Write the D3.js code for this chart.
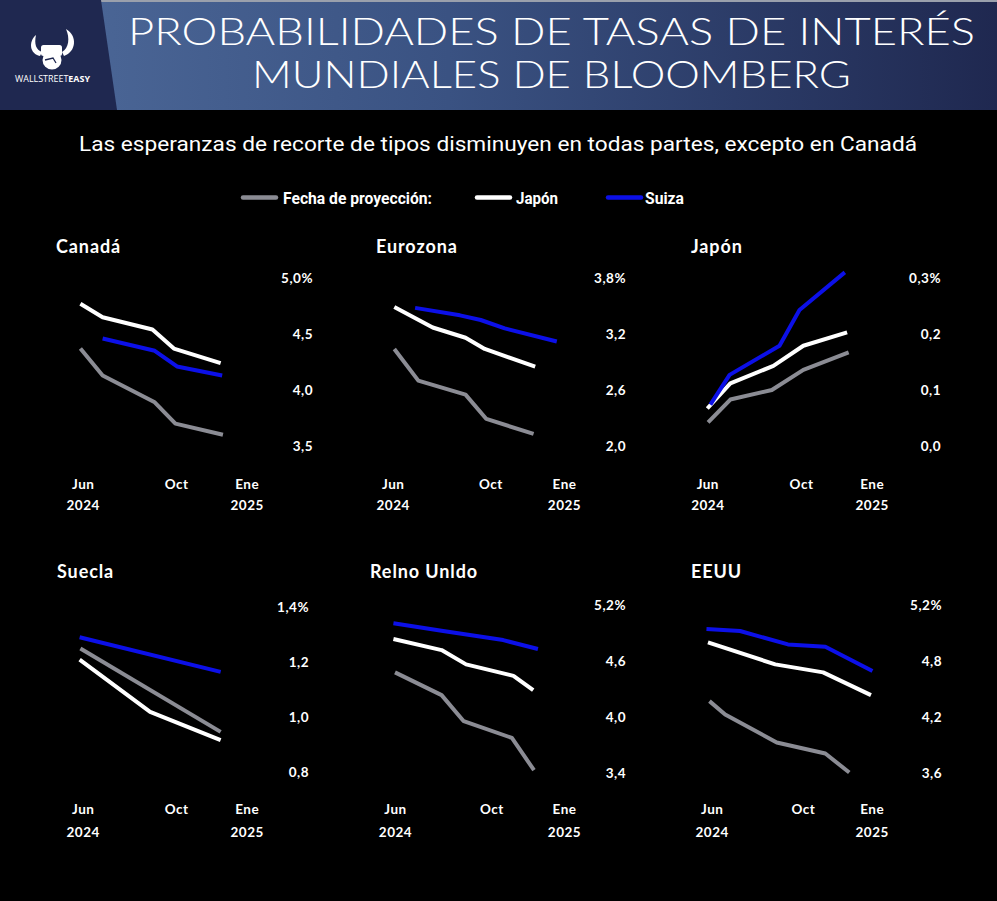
<!DOCTYPE html>
<html><head><meta charset="utf-8">
<script src="https://cdn.jsdelivr.net/npm/d3@7"></script>
<style>
html,body{margin:0;padding:0;background:#000;}
svg{display:block;}
</style></head>
<body>
<svg id="chart" width="997" height="901"></svg>
<script>
// ---------- DATA ----------
const titleLines = ["PROBABILIDADES DE TASAS DE INTERÉS", "MUNDIALES DE BLOOMBERG"];
const subtitle = "Las esperanzas de recorte de tipos disminuyen en todas partes, excepto en Canadá";
const legendLabels = ["Fecha de proyección:", "Japón", "Suiza"];
const seriesKeys = ["gray", "white", "blue"];
const monthTicks = ["2024-06-01", "2024-10-01", "2025-01-01"];
const monthLabels = ["Jun", "Oct", "Ene"];
const yearTicks = ["2024-06-01", "2025-01-01"];
const yearLabels = ["2024", "2025"];

const panelNames = ["Canadá", "Eurozona", "Japón", "Suecla", "Relno Unldo", "EEUU"];
const panelTicks = [
  [3.5, 4.0, 4.5, 5.0],
  [2.0, 2.6, 3.2, 3.8],
  [0.0, 0.1, 0.2, 0.3],
  [0.8, 1.0, 1.2, 1.4],
  [3.4, 4.0, 4.6, 5.2],
  [3.6, 4.2, 4.8, 5.4]
];
// tick label text exactly as printed on the source (EEUU top label reads 5,2%)
const panelTickLabels = [
  ["3,5", "4,0", "4,5", "5,0%"],
  ["2,0", "2,6", "3,2", "3,8%"],
  ["0,0", "0,1", "0,2", "0,3%"],
  ["0,8", "1,0", "1,2", "1,4%"],
  ["3,4", "4,0", "4,6", "5,2%"],
  ["3,6", "4,2", "4,8", "5,2%"]
];

const canada = {
  gray:  [["2024-05-29",4.37],["2024-06-27",4.13],["2024-09-03",3.89],["2024-09-30",3.70],["2024-12-01",3.60]],
  white: [["2024-05-29",4.77],["2024-06-27",4.65],["2024-08-31",4.54],["2024-09-28",4.37],["2024-11-28",4.24]],
  blue:  [["2024-06-27",4.46],["2024-09-03",4.35],["2024-10-02",4.21],["2024-11-30",4.13]]
};
const eurozona = {
  gray:  [["2024-06-03",3.04],["2024-07-03",2.70],["2024-08-31",2.55],["2024-09-26",2.29],["2024-11-24",2.13]],
  white: [["2024-06-03",3.49],["2024-07-21",3.27],["2024-08-31",3.16],["2024-09-24",3.04],["2024-11-26",2.85]],
  blue:  [["2024-06-29",3.48],["2024-08-24",3.40],["2024-09-19",3.35],["2024-10-19",3.26],["2024-12-23",3.12]]
};
const japon = {
  gray:  [["2024-06-02",0.042],["2024-07-01",0.083],["2024-08-24",0.100],["2024-10-04",0.136],["2024-12-02",0.167]],
  white: [["2024-06-01",0.067],["2024-07-01",0.112],["2024-08-26",0.143],["2024-10-04",0.179],["2024-11-30",0.203]],
  blue:  [["2024-06-05",0.074],["2024-06-30",0.127],["2024-09-03",0.179],["2024-09-29",0.243],["2024-11-27",0.310]]
};
const suecia = {
  gray:  [["2024-05-29",1.249],["2024-11-28",0.946]],
  white: [["2024-05-28",1.209],["2024-08-28",1.019],["2024-11-28",0.916]],
  blue:  [["2024-05-28",1.290],["2024-11-28",1.164]]
};
const reinoUnido = {
  gray:  [["2024-06-01",4.478],["2024-07-30",4.234],["2024-08-27",3.955],["2024-10-27",3.776],["2024-11-24",3.430]],
  white: [["2024-05-30",4.835],["2024-07-30",4.717],["2024-08-30",4.564],["2024-10-29",4.441],["2024-11-23",4.288]],
  blue:  [["2024-05-30",5.004],["2024-08-01",4.921],["2024-10-16",4.824],["2024-11-29",4.728]]
};
const eeuu = {
  gray:  [["2024-05-29",4.370],["2024-06-19",4.227],["2024-08-27",3.927],["2024-10-31",3.809],["2024-12-02",3.605]],
  white: [["2024-05-27",5.000],["2024-08-25",4.764],["2024-10-28",4.678],["2024-12-31",4.434]],
  blue:  [["2024-05-25",5.142],["2024-07-09",5.121],["2024-09-11",4.978],["2024-10-31",4.953],["2025-01-02",4.692]]
};
const panelData = [canada, eurozona, japon, suecia, reinoUnido, eeuu];

// ---------- LAYOUT / STYLE ----------
const colors = {gray: "#8b8c94", white: "#ffffff", blue: "#0c10e8"};
const layout = [
  {titleX: 56,  titleY: 253, x0: 82.7,  x1: 246.7, yTop: 278, yBot: 446, labelRight: 313, mY: 484, yrY: 505},
  {titleX: 376, titleY: 253, x0: 392.7, x1: 564,   yTop: 278, yBot: 446, labelRight: 626, mY: 484, yrY: 505},
  {titleX: 691, titleY: 253, x0: 707.3, x1: 871.7, yTop: 278, yBot: 446, labelRight: 941, mY: 484, yrY: 505},
  {titleX: 57,  titleY: 578, x0: 82.7,  x1: 246.7, yTop: 607, yBot: 772, labelRight: 309, mY: 809, yrY: 832},
  {titleX: 370, titleY: 578, x0: 395,   x1: 564,   yTop: 605, yBot: 773, labelRight: 626, mY: 809, yrY: 832},
  {titleX: 691, titleY: 578, x0: 711.7, x1: 871.7, yTop: 605, yBot: 773, labelRight: 942, mY: 809, yrY: 832}
];

const parse = d3.timeParse("%Y-%m-%d");
const svg = d3.select("#chart");
const defs = svg.append("defs");

// ---------- HEADER ----------
const grad = defs.append("linearGradient").attr("id", "hdr").attr("x1", "0%").attr("x2", "100%");
grad.append("stop").attr("offset", "0%").attr("stop-color", "#4e6a9a");
grad.append("stop").attr("offset", "45%").attr("stop-color", "#3a5282");
grad.append("stop").attr("offset", "100%").attr("stop-color", "#1f2850");
svg.append("rect").attr("x", 0).attr("y", 0).attr("width", 997).attr("height", 110).attr("fill", "url(#hdr)");
svg.append("rect").attr("x", 0).attr("y", 0).attr("width", 997).attr("height", 2).attr("fill", "#9aa0ac");
svg.append("path").attr("d", "M0,0 L101,0 L117,110 L0,110 Z").attr("fill", "#1f2850");

// logo
const logo = svg.append("g").attr("fill", "#fff");
logo.append("path").attr("d", "M36,35 C28,42 30,54 40,56 L42,52 C36,50 34,44 36,35 Z");
logo.append("path").attr("d", "M66,29 C78,36 76,52 64,56 L62,52 C69,48 70,38 66,29 Z");
logo.append("circle").attr("cx", 52).attr("cy", 60).attr("r", 9.5);
logo.append("rect").attr("x", 41).attr("y", 45).attr("width", 21).attr("height", 11).attr("rx", 2.5);
logo.append("path").attr("d", "M45,60 L53,58 L56,63").attr("stroke", "#1f2850").attr("stroke-width", 1.3).attr("fill", "none");
const lt = logo.append("text").attr("x", 15).attr("y", 82)
  .attr("font-family", "'Open Sans', sans-serif").attr("font-size", 8.6).attr("fill", "#fff")
  .attr("textLength", 75).attr("lengthAdjust", "spacingAndGlyphs");
lt.append("tspan").text("WALLSTREET");
lt.append("tspan").attr("font-weight", 700).text("EASY");

svg.selectAll("text.title").data(titleLines).join("text")
  .attr("class", "title")
  .attr("x", 551.5).attr("y", (d, i) => i === 0 ? 45 : 88)
  .attr("text-anchor", "middle")
  .attr("font-family", "Lato, sans-serif").attr("font-weight", 300)
  .attr("font-size", 38).attr("fill", "#fff")
  .attr("textLength", (d, i) => i === 0 ? 847 : 599)
  .attr("lengthAdjust", "spacingAndGlyphs")
  .text(d => d);

// subtitle
svg.append("text").attr("x", 498).attr("y", 151).attr("text-anchor", "middle")
  .attr("font-family", "Roboto, sans-serif").attr("font-weight", 400).attr("font-size", 19.5)
  .attr("fill", "#fff").attr("textLength", 838).attr("lengthAdjust", "spacingAndGlyphs")
  .text(subtitle);

// legend
const legendPos = [{lx: 243, tx: 283, tw: 149}, {lx: 477, tx: 516, tw: 42}, {lx: 608, tx: 645, tw: 39}];
const lg = svg.append("g");
seriesKeys.forEach((k, i) => {
  lg.append("line").attr("x1", legendPos[i].lx).attr("x2", legendPos[i].lx + 33)
    .attr("y1", 197.5).attr("y2", 197.5).attr("stroke", colors[k]).attr("stroke-width", 4.5)
    .attr("stroke-linecap", "round");
  lg.append("text").attr("x", legendPos[i].tx).attr("y", 204)
    .attr("font-family", "Roboto, sans-serif").attr("font-weight", 700).attr("font-size", 17)
    .attr("fill", "#fff").attr("textLength", legendPos[i].tw).attr("lengthAdjust", "spacingAndGlyphs")
    .text(legendLabels[i]);
});

// ---------- PANELS ----------
panelData.forEach((pd, pi) => {
  const L = layout[pi];
  const ticks = panelTicks[pi];
  const tickText = panelTickLabels[pi];
  const g = svg.append("g");
  g.append("text").attr("x", L.titleX).attr("y", L.titleY)
    .attr("font-family", "Lato, sans-serif").attr("font-weight", 700).attr("font-size", 18)
    .attr("fill", "#fff").attr("letter-spacing", 0.9).text(panelNames[pi]);

  const x = d3.scaleTime().domain([parse("2024-06-01"), parse("2025-01-01")]).range([L.x0, L.x1]);
  const y = d3.scaleLinear().domain([ticks[0], ticks[ticks.length - 1]]).range([L.yBot, L.yTop]);

  const yAxis = d3.axisLeft(y).tickValues(ticks).tickSize(0).tickPadding(0)
    .tickFormat((v, i) => tickText[i]);
  const ya = g.append("g").attr("transform", `translate(${L.labelRight},0)`).call(yAxis);
  ya.select(".domain").remove();
  ya.selectAll("text").attr("fill", "#fff").attr("font-family", "Lato, sans-serif")
    .attr("font-weight", 700).attr("font-size", 13.5).attr("letter-spacing", 0.5).attr("dy", "0.35em");

  const xAxis = d3.axisBottom(x).tickValues(monthTicks.map(parse)).tickSize(0).tickPadding(0)
    .tickFormat((d, i) => monthLabels[i]);
  const xa = g.append("g").attr("transform", `translate(0,${L.mY})`).call(xAxis);
  xa.select(".domain").remove();
  const yrAxis = d3.axisBottom(x).tickValues(yearTicks.map(parse)).tickSize(0).tickPadding(0)
    .tickFormat((d, i) => yearLabels[i]);
  const yra = g.append("g").attr("transform", `translate(0,${L.yrY})`).call(yrAxis);
  yra.select(".domain").remove();
  [xa, yra].forEach(a => a.selectAll("text").attr("fill", "#fff").attr("font-family", "Lato, sans-serif")
    .attr("font-weight", 700).attr("font-size", 13.5).attr("letter-spacing", 0.5).attr("dy", "0.35em"));

  const line = d3.line().x(d => x(parse(d[0]))).y(d => y(d[1]));
  seriesKeys.forEach(k => {
    g.append("path").datum(pd[k]).attr("d", line).attr("fill", "none")
      .attr("stroke", colors[k]).attr("stroke-width", 4).attr("stroke-linejoin", "round")
      .attr("stroke-linecap", "butt");
  });
});
</script>
</body></html>
